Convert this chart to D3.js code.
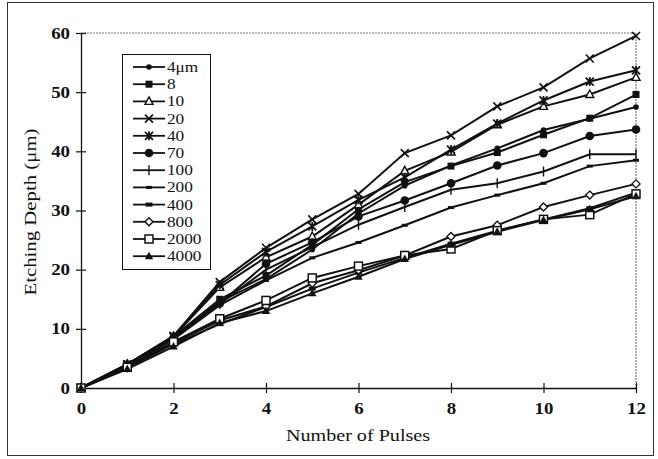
<!DOCTYPE html>
<html>
<head>
<meta charset="utf-8">
<script src="https://cdn.jsdelivr.net/npm/d3@7"></script>
<style>
  body { margin: 0; background: #fff; }
  text { font-family: "Liberation Serif", "Times New Roman", serif; fill: #111; }
</style>
</head>
<body>
<script>
// data
var pulses = [0, 1, 2, 3, 4, 5, 6, 7, 8, 9, 10, 11, 12];
var yTicks = [0, 10, 20, 30, 40, 50, 60];
var xTicks = [0, 2, 4, 6, 8, 10, 12];
var labels = ["4\u03bcm", "8", "10", "20", "40", "70", "100", "200", "400", "800", "2000", "4000"];

var d4    = [0, 4.0, 8.7, 14.6, 18.4, 23.4, 29.5, 34.2, 37.6, 40.5, 43.6, 45.5, 47.5];
var d8    = [0, 4.0, 8.7, 15.0, 19.0, 24.2, 30.2, 34.8, 37.5, 39.8, 42.8, 45.6, 49.6];
var d10   = [0, 4.0, 8.7, 17.0, 22.1, 25.6, 31.0, 36.7, 39.9, 44.5, 47.6, 49.6, 52.5];
var d20   = [0, 4.0, 8.8, 17.9, 23.7, 28.5, 32.8, 39.7, 42.7, 47.6, 50.8, 55.7, 59.5];
var d40   = [0, 4.0, 8.7, 17.4, 23.0, 27.3, 31.8, 35.6, 40.3, 44.7, 48.6, 51.8, 53.7];
var d70   = [0, 3.9, 8.5, 14.3, 21.0, 24.6, 29.0, 31.7, 34.6, 37.6, 39.7, 42.6, 43.7];
var d100  = [0, 3.8, 8.4, 14.2, 20.0, 23.8, 27.6, 30.6, 33.5, 34.6, 36.6, 39.5, 39.5];
var d200  = [0, 3.6, 8.2, 14.0, 18.2, 22.0, 24.6, 27.5, 30.5, 32.6, 34.6, 37.5, 38.5];
var d400  = [0, 3.4, 7.4, 10.8, 13.7, 16.8, 19.5, 22.0, 24.4, 26.6, 28.5, 30.4, 33.0];
var d800  = [0, 3.4, 7.6, 11.4, 13.8, 17.7, 19.9, 22.4, 25.6, 27.5, 30.6, 32.6, 34.5];
var d2000 = [0, 3.5, 7.8, 11.7, 14.8, 18.6, 20.6, 22.4, 23.5, 26.6, 28.5, 29.3, 32.8];
var d4000 = [0, 3.2, 7.0, 11.0, 13.0, 16.0, 18.8, 21.8, 24.2, 26.4, 28.4, 30.2, 32.4];

var series = [d4, d8, d10, d20, d40, d70, d100, d200, d400, d800, d2000, d4000];
var markers = ["dot", "fsquare", "otri", "cross", "star", "circle", "plus", "dash", "bar", "diamond", "osquare", "ftri"];

var W = 658, H = 459;
var wide = 1.18; // the scanned lettering is a bit wider than plain Times
var svg = d3.select("body").append("svg").attr("width", W).attr("height", H);

// outer frame
svg.append("rect").attr("x", 7.5).attr("y", 2.5).attr("width", 646).attr("height", 453)
  .attr("fill", "none").attr("stroke", "#333").attr("stroke-width", 1);

var x = d3.scaleLinear().domain([0, 12]).range([81, 636]);
var y = d3.scaleLinear().domain([0, 60]).range([388, 33]);

// dotted top and right edges of the plot box
svg.append("path")
  .attr("d", "M" + x(0) + "," + y(60) + "H" + x(12) + "V" + y(0))
  .attr("fill", "none").attr("stroke", "#777").attr("stroke-width", 1.2)
  .attr("stroke-dasharray", "2,1");

// axes
var yAxis = svg.append("g").attr("transform", "translate(" + x(0) + ",0)")
  .call(d3.axisLeft(y).tickValues(yTicks).tickSizeInner(5).tickSizeOuter(0).tickPadding(8));
var xAxis = svg.append("g").attr("transform", "translate(0," + y(0) + ")")
  .call(d3.axisBottom(x).tickValues(xTicks).tickSizeInner(5).tickSizeOuter(0).tickPadding(10));

[yAxis, xAxis].forEach(function(g) {
  g.select(".domain").attr("stroke", "#111").attr("stroke-width", 1.3);
  g.selectAll(".tick line").attr("stroke", "#111").attr("stroke-width", 1.2);
  g.selectAll(".tick text").style("font-family", "Liberation Serif").style("font-size", "16px")
    .style("font-weight", "bold").attr("fill", "#111")
    .attr("transform", "scale(" + wide + ",1)");
});
yAxis.selectAll(".tick line").attr("x1", 5);
yAxis.selectAll(".tick text").attr("x", -11 / wide);
xAxis.selectAll(".tick line").attr("y1", -5);

// axis titles
svg.append("text").attr("transform", "translate(358,441) scale(1.22,1)").attr("text-anchor", "middle")
  .style("font-size", "16.5px").text("Number of Pulses");
svg.append("text").attr("transform", "translate(36,212) rotate(-90) scale(1.3,1)").attr("text-anchor", "middle")
  .style("font-size", "16px").text("Etching Depth (\u03bcm)");

// marker drawing
function drawMarker(g, type) {
  if (type === "dot") g.append("circle").attr("r", 2.8).attr("fill", "#111");
  if (type === "circle") g.append("circle").attr("r", 4.3).attr("fill", "#111");
  if (type === "fsquare") g.append("rect").attr("x", -3.5).attr("y", -3.5).attr("width", 7).attr("height", 7).attr("fill", "#111");
  if (type === "osquare") g.append("rect").attr("x", -4).attr("y", -4).attr("width", 8).attr("height", 8)
    .attr("fill", "#fff").attr("stroke", "#111").attr("stroke-width", 1.5);
  if (type === "otri") g.append("path").attr("d", "M0,-4.5L4,3L-4,3Z").attr("fill", "#fff").attr("stroke", "#111").attr("stroke-width", 1.4);
  if (type === "ftri") g.append("path").attr("d", "M0,-4.5L4.2,3L-4.2,3Z").attr("fill", "#111");
  if (type === "cross") g.append("path").attr("d", "M-4,-4L4,4M-4,4L4,-4").attr("stroke", "#111").attr("stroke-width", 1.6);
  if (type === "star") g.append("path").attr("d", "M-4,-4L4,4M-4,4L4,-4M0,-4.5V4.5").attr("stroke", "#111").attr("stroke-width", 1.8);
  if (type === "plus") g.append("path").attr("d", "M0,-5V5").attr("stroke", "#111").attr("stroke-width", 1.4);
  if (type === "dash") g.append("rect").attr("x", -3).attr("y", -1.5).attr("width", 6).attr("height", 3).attr("fill", "#111");
  if (type === "bar") g.append("rect").attr("x", -3.5).attr("y", -2).attr("width", 7).attr("height", 4).attr("fill", "#111");
  if (type === "diamond") g.append("path").attr("d", "M0,-4L4,0L0,4L-4,0Z").attr("fill", "#fff").attr("stroke", "#111").attr("stroke-width", 1.4);
}

var line = d3.line().x(function(d, i) { return x(pulses[i]); }).y(function(d) { return y(d); });

// lines first, then markers on top
series.forEach(function(vals) {
  svg.append("path").datum(vals).attr("d", line)
    .attr("fill", "none").attr("stroke", "#111").attr("stroke-width", 2);
});
series.forEach(function(vals, k) {
  vals.forEach(function(v, i) {
    var g = svg.append("g").attr("transform", "translate(" + x(pulses[i]) + "," + y(v) + ")");
    drawMarker(g, markers[k]);
  });
});

// legend
var legend = svg.append("g");
legend.append("rect").attr("x", 122.5).attr("y", 54.5).attr("width", 88).attr("height", 215)
  .attr("fill", "#fff").attr("stroke", "#111").attr("stroke-width", 1);
labels.forEach(function(lab, k) {
  var ly = 67 + k * 17.2;
  legend.append("line").attr("x1", 133).attr("x2", 165).attr("y1", ly).attr("y2", ly)
    .attr("stroke", "#111").attr("stroke-width", 1.8);
  drawMarker(legend.append("g").attr("transform", "translate(149," + ly + ")"), markers[k]);
  legend.append("text").attr("transform", "translate(167," + (ly + 5) + ") scale(1.15,1)")
    .style("font-size", "15px").text(lab);
});
</script>
</body>
</html>
